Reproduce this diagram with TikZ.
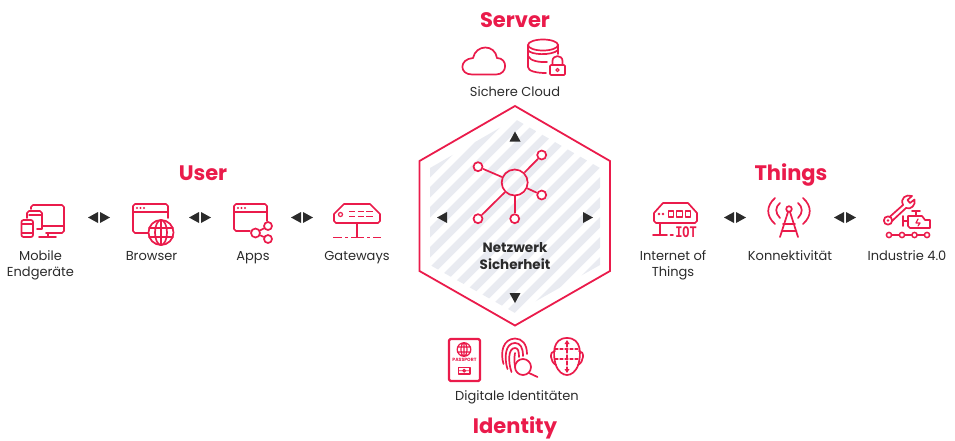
\documentclass[tikz,border=0pt]{standalone}
\usepackage{fontspec}
\setmainfont{Poppins}
\newfontfamily\iotfont{Liberation Mono}
\definecolor{brandred}{HTML}{EA1B4B}
\definecolor{darktext}{HTML}{2B2B2B}
\definecolor{stripegray}{HTML}{E9EBF1}
\tikzset{
	icon/.style = {draw = brandred, line width = 1.7pt, line cap = round, line join = round},
	thinicon/.style = {icon, line width = 1.2pt},
	tip/.style = {fill = darktext, draw = none},
	head/.style = {text = brandred, font = \fontsize{21}{24}\selectfont\bfseries},
	label/.style = {text = darktext, align = center, text height = 10pt, text depth = 3pt, inner sep = 0pt, font = \fontsize{13}{16}\selectfont},
	leaf/.style = {circle, draw = brandred, fill = white, line width = 1.7pt, minimum size = 9pt, inner sep = 0pt}
}
\begin{document}
\begin{tikzpicture}[x = 1pt, y = -1pt]
	 \useasboundingbox (0, 0) rectangle (955, 440);

	 % hexagon
	 \begin{scope}
	 \clip (515, 119) -- (600, 168) -- (600, 265) -- (515, 313) -- (430, 265) -- (430, 168) -- cycle;
	 \foreach \s in {-103, -83, ..., 217}
	 \fill[stripegray] (\s + 330, 330) -- (\s + 340.5, 330) -- (\s + 570.5, 100) -- (\s + 560, 100) -- cycle;
	 \end{scope}
	 \draw[brandred, line width = 1.8pt, line join = miter] (515, 106) -- (610, 161) -- (610, 271) -- (515, 325.5) -- (419.5, 271) -- (419.5, 161) -- cycle;

	 % network
	 \node[leaf, minimum size = 26pt, fill = none] (hub) at (514.7, 182.5) {};
	 \node[leaf] (leafa) at (478, 166.7) {};
	 \node[leaf] (leafb) at (541.7, 155) {};
	 \node[leaf] (leafc) at (541.7, 195) {};
	 \node[leaf] (leafd) at (478, 218.7) {};
	 \node[leaf] (leafe) at (514.7, 218.7) {};
	 \foreach \n in {leafa, leafb, leafc, leafd, leafe}
	 \draw[brandred, line width = 1.7pt] (hub) -- (\n);

	 \node[label, font = \fontsize{13.5}{17}\selectfont\bfseries] (centrea) at (515, 249) {Netzwerk};
	 \node[label, font = \fontsize{13.5}{17}\selectfont\bfseries] (centreb) at (515, 266) {Sicherheit};

	 % tips
	 \fill[tip] (515, 131.5) -- (520.5, 141.5) -- (509.5, 141.5) -- cycle;
	 \fill[tip] (515, 303) -- (520.5, 293) -- (509.5, 293) -- cycle;
	 \fill[tip] (437, 217.5) -- (447, 212) -- (447, 223) -- cycle;
	 \fill[tip] (593, 217.5) -- (583, 212) -- (583, 223) -- cycle;
	 \foreach \x in {99, 200, 302, 735, 845} {
	 \fill[tip] (\x - 1, 212) -- (\x - 1, 223) -- (\x - 11, 217.5) -- cycle;
	 \fill[tip] (\x + 1, 212) -- (\x + 1, 223) -- (\x + 11, 217.5) -- cycle;
	 }

	 % mobile
	 \draw[icon] (31, 209) -- (31, 207) -- (33, 205) -- (62, 205) -- (64, 207) -- (64, 231) -- (62, 233) -- (46, 233);
	 \draw[icon] (43, 226) -- (64, 226);
	 \draw[icon] (48, 233) -- (48, 237) (39, 237) -- (56, 237);
	 \draw[icon] (27, 218) -- (27, 213) -- (29, 211) -- (40, 211) -- (42, 213) -- (42, 229) -- (37, 229);
	 \draw[thinicon] (29, 215) -- (42, 215);
	 \draw[icon, rounded corners = 2pt] (21.5, 220) rectangle (33, 237);
	 \draw[thinicon] (22, 224) -- (33, 224) (22, 233) -- (33, 233);

	 % browser
	 \draw[icon] (148, 233) -- (135, 233) -- (133, 231) -- (133, 206) -- (135, 204) -- (166, 204) -- (168, 206) -- (168, 218);
	 \draw[icon] (133, 212) -- (168, 212);
	 \foreach \x in {137, 140.5, 144}
	 \fill[brandred] (\x, 208) circle (1.1);
	 \draw[icon, fill = white] (161, 232.5) circle (12.5);
	 \draw[icon] (161, 232.5) ellipse (6 and 12.5);
	 \draw[icon] (149, 228) -- (173, 228) (149, 237) -- (173, 237) (161, 220) -- (161, 245);

	 % apps
	 \draw[icon] (250, 231) -- (236, 231) -- (234, 229) -- (234, 206) -- (236, 204) -- (265, 204) -- (267, 206) -- (267, 221);
	 \draw[icon] (234, 212) -- (267, 212);
	 \foreach \x in {238, 241.5, 245}
	 \fill[brandred] (\x, 208) circle (1.1);
	 \node[leaf, minimum size = 8pt] (shareb) at (268, 226) {};
	 \node[leaf, minimum size = 9pt] (sharea) at (255.5, 233) {};
	 \node[leaf, minimum size = 8pt] (sharec) at (268, 239) {};
	 \draw[icon] (sharea) -- (shareb) (sharea) -- (sharec);

	 % gateway
	 \draw[icon] (334, 214) -- (344, 204) -- (370, 204) -- (380, 214) -- (380, 221) -- (378, 223) -- (336, 223) -- (334, 221) -- cycle;
	 \draw[thinicon] (340.5, 214.5) circle (2);
	 \draw[icon, line cap = butt] (349, 211.5) -- (355, 211.5) (357.5, 211.5) -- (363.5, 211.5) (366, 211.5) -- (373, 211.5);
	 \draw[icon, line cap = butt] (349, 216.5) -- (355, 216.5) (357.5, 216.5) -- (363.5, 216.5) (366, 216.5) -- (373, 216.5);
	 \draw[icon] (357, 223) -- (357, 237);
	 \draw[icon, line cap = butt] (333, 237.5) -- (342, 237.5) (345, 237.5) -- (348, 237.5) (351, 237.5) -- (364, 237.5) (367, 237.5) -- (370, 237.5) (373, 237.5) -- (381, 237.5);

	 % iot
	 \draw[icon] (654, 213) -- (663, 203) -- (688, 203) -- (697, 213) -- (697, 221) -- (695, 223) -- (656, 223) -- (654, 221) -- cycle;
	 \fill[brandred] (659, 214) circle (1.3) (663, 214) circle (1.3);
	 \foreach \x in {671, 679.5, 688}
	 \draw[thinicon] (\x - 2.8, 211) rectangle (\x + 2.8, 217);
	 \draw[icon] (660, 223) -- (660, 235) (653, 235) -- (667, 235) (670.5, 235) -- (673, 235);
	 \node[text = brandred, inner sep = 0pt, transform shape, xscale = 0.88, yscale = 1.2, font = \iotfont\bfseries\fontsize{13.5}{14}\selectfont] (iot) at (686, 232.5) {IOT};

	 % antenna
	 \draw[icon] (789, 209) circle (2.8);
	 \draw[icon] (788, 212) -- (780, 237) (790, 212) -- (798, 237) (783, 224) -- (795, 224) (781.5, 231) -- (796.5, 231);
	 \draw[icon] (775, 198) .. controls (766, 206) and (766, 216) .. (775, 224);
	 \draw[icon] (780, 203) .. controls (775, 207) and (775, 213) .. (780, 218);
	 \draw[icon] (803, 198) .. controls (812, 206) and (812, 216) .. (803, 224);
	 \draw[icon] (798, 203) .. controls (803, 207) and (803, 213) .. (798, 218);

	 % industrie
	 \draw[icon] (889.5, 217) -- (903, 205) (892, 221) -- (906, 208);
	 \draw[icon] (903, 205) .. controls (900, 198) and (906, 194) .. (912, 196) -- (907.5, 200) -- (910, 203) -- (914.5, 199.5) .. controls (916, 205) and (911, 210) .. (906, 208);
	 \draw[icon] (888, 220.5) circle (4.2);
	 \fill[brandred] (888, 220.5) circle (1.3);
	 \draw[icon] (903, 216) -- (903, 226) (903, 221) -- (908, 221);
	 \draw[icon] (908, 216) -- (922, 216) -- (925, 220) -- (930, 220) -- (930, 228) -- (910, 228) -- (908, 226) -- cycle;
	 \draw[icon] (912, 211) -- (920, 211) (916, 211) -- (916, 216);
	 \draw[thinicon] (918, 219) -- (916, 223) -- (920, 223) -- (918, 226);
	 \foreach \x in {889, 902, 914.5, 927}
	 \draw[thinicon, line width = 1.5pt] (\x, 235) circle (2.6);
	 \draw[icon] (892, 235) -- (899, 235) (905, 235) -- (911.5, 235) (917.5, 235) -- (924, 235);

	 % cloud
	 \draw[icon] (472, 74.5) -- (496, 74.5) .. controls (508, 74.5) and (508, 58) .. (497, 58) .. controls (495, 44) and (476, 44) .. (473, 58) .. controls (459, 59) and (459, 74.5) .. (472, 74.5) -- cycle;

	 % database
	 \draw[icon] (543, 45) ellipse (15 and 5.5);
	 \draw[icon] (528, 45) -- (528, 67) .. controls (528, 71) and (536, 73) .. (546, 73);
	 \draw[icon] (558, 45) -- (558, 54);
	 \draw[icon] (528, 56) .. controls (530, 61) and (540, 62.5) .. (547, 62);
	 \draw[icon] (528, 50) .. controls (530, 55) and (552, 56) .. (558, 50);
	 \draw[icon, fill = white, rounded corners = 1pt] (550, 65) rectangle (565, 75);
	 \draw[icon] (552.5, 65) -- (552.5, 61) .. controls (552.5, 54.5) and (562.5, 54.5) .. (562.5, 61) -- (562.5, 65);
	 \draw[thinicon] (557.5, 70) circle (1.6);

	 % passport
	 \draw[icon, line width = 2.2pt, rounded corners = 1.5pt] (449, 339) rectangle (480, 381);
	 \draw[thinicon] (464, 349.5) circle (6.8) (464, 349.5) ellipse (3 and 6.8) (457.5, 347) -- (470.5, 347) (457.5, 352) -- (470.5, 352) (464, 343) -- (464, 356);
	 \node[text = brandred, inner sep = 0pt, font = \fontsize{4.6}{5}\selectfont\bfseries] (passport) at (464.5, 360) {PASSPORT};
	 \draw[thinicon] (458.5, 367.5) rectangle (470, 374);
	 \draw[thinicon, line width = 0.9pt] (464.2, 370.7) circle (1.6) (458.5, 370.7) -- (470, 370.7);

	 % fingerprint
	 \draw[icon] (503.5, 364) .. controls (500, 352) and (503, 339) .. (515, 338.5) .. controls (522, 338.5) and (527, 344) .. (527, 354);
	 \draw[icon] (507.5, 369) .. controls (504, 358) and (505, 343) .. (515, 343) .. controls (520, 343) and (523, 347) .. (523, 356);
	 \draw[icon] (511.5, 372) .. controls (508, 362) and (508, 348) .. (515, 348) .. controls (518, 348) and (519, 351) .. (519, 357);
	 \draw[icon] (515, 353) .. controls (514, 359) and (514, 364) .. (516, 369);
	 \draw[icon, fill = white] (523, 367) circle (8);
	 \draw[icon] (529, 373) -- (537.5, 377);

	 % face
	 \draw[icon] (567, 338) .. controls (552, 338) and (553, 355) .. (555.5, 364) .. controls (558, 372) and (563, 375) .. (567, 375) .. controls (571, 375) and (576, 372) .. (578.5, 364) .. controls (581, 355) and (582, 338) .. (567, 338) -- cycle;
	 \draw[icon] (555, 351) .. controls (549, 351) and (550, 362) .. (556, 365);
	 \draw[icon] (579, 351) .. controls (585, 351) and (584, 362) .. (578, 365);
	 \draw[thinicon, dash pattern = on 3pt off 2pt] (555, 349) -- (579, 349) (555, 359) -- (579, 359);
	 \draw[thinicon, dash pattern = on 4pt off 2pt] (567, 343) -- (567, 371);
	 \fill[brandred] (567, 340) -- (569.5, 344) -- (564.5, 344) -- cycle (567, 373) -- (569.5, 369) -- (564.5, 369) -- cycle;

	 % labels
	 \node[head] (server) at (515, 20) {Server};
	 \node[head] (user) at (203, 173) {User};
	 \node[head] (things) at (791, 175) {Things};
	 \node[head] (identity) at (515, 428) {Identity};
	 \node[label] (cloud) at (515, 92.5) {Sichere Cloud};
	 \node[label] (mobilea) at (40.5, 257) {Mobile};
	 \node[label] (mobileb) at (40.5, 273) {Endgeräte};
	 \node[label] (browser) at (151.5, 257) {Browser};
	 \node[label] (apps) at (253, 257) {Apps};
	 \node[label] (gateways) at (357, 257) {Gateways};
	 \node[label] (interneta) at (673, 257) {Internet of};
	 \node[label] (internetb) at (673, 273) {Things};
	 \node[label] (konnekt) at (790, 257) {Konnektivität};
	 \node[label] (industrie) at (907, 257) {Industrie 4.0};
	 \node[label] (digital) at (517, 396.5) {Digitale Identitäten};
\end{tikzpicture}
\end{document}
